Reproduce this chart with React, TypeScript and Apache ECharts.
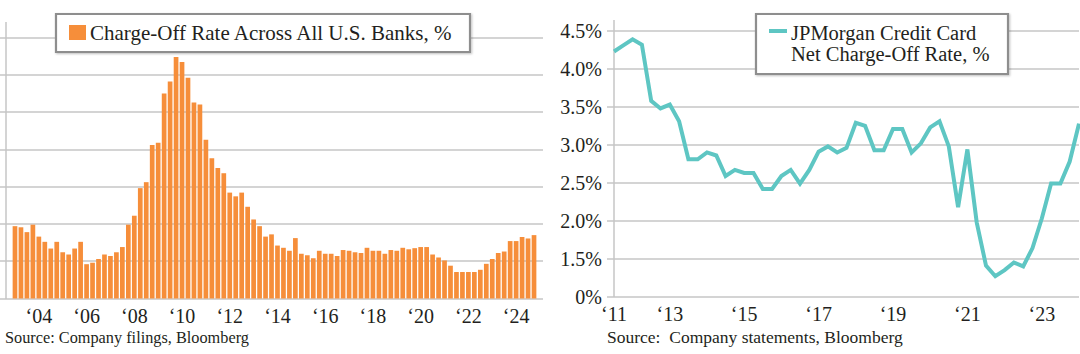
import React, { useEffect, useRef } from 'react';
import * as echarts from 'echarts';

// ---------- DATA ----------
// Left: charge-off rate across all U.S. banks, quarterly 2003Q1 - 2024Q4 (%)
const bankStartYear = 2003;
const bankChargeOffRate = [
  0.97, 0.955, 0.89, 0.99, 0.83, 0.76, 0.67, 0.76, 0.62, 0.59, 0.67,
  0.76, 0.46, 0.48, 0.53, 0.59, 0.57, 0.62, 0.69, 0.99, 1.11, 1.48,
  1.56, 2.06, 2.09, 2.75, 2.91, 3.24, 3.17, 2.96, 2.63, 2.6, 2.13,
  1.88, 1.75, 1.68, 1.42, 1.37, 1.42, 1.23, 1.06, 0.97, 0.83, 0.86,
  0.71, 0.68, 0.64, 0.81, 0.6, 0.58, 0.54, 0.64, 0.6, 0.6, 0.57,
  0.65, 0.64, 0.62, 0.61, 0.68, 0.64, 0.64, 0.6, 0.65, 0.64, 0.68,
  0.66, 0.675, 0.69, 0.69, 0.59, 0.55, 0.51, 0.44, 0.355, 0.355, 0.355,
  0.355, 0.385, 0.465, 0.53, 0.61, 0.63, 0.77, 0.77, 0.825, 0.805, 0.85,
];
const bankLabelYears = [2004, 2006, 2008, 2010, 2012, 2014, 2016, 2018, 2020, 2022, 2024];

// Right: JPMorgan credit card net charge-off rate, quarterly 2011Q3 - 2024Q1 (%)
const jpmStartYear = 2011;
const jpmStartQuarter = 3;
const jpmCardNcoRate = [
  4.23, 4.31, 4.39, 4.32, 3.58, 3.48, 3.53, 3.31, 2.81, 2.81, 2.9,
  2.86, 2.59, 2.67, 2.63, 2.63, 2.42, 2.42, 2.59, 2.67, 2.49, 2.67,
  2.91, 2.98, 2.9, 2.96, 3.29, 3.25, 2.93, 2.93, 3.21, 3.21, 2.9,
  3.02, 3.23, 3.31, 2.98, 2.18, 2.94, 1.98, 1.41, 1.27, 1.35, 1.45,
  1.4, 1.64, 2.03, 2.49, 2.49, 2.78, 3.28,
];
const jpmLabelYears = [2011, 2013, 2015, 2017, 2019, 2021, 2023];
const jpmYTicks = [1.0, 1.5, 2.0, 2.5, 3.0, 3.5, 4.0, 4.5];
const jpmBrokenAxisLabel = '0%'; // bottom tick is labelled 0% in the source

const bankName = 'Charge-Off Rate Across All U.S. Banks, %';
const jpmNameLine1 = 'JPMorgan Credit Card';
const jpmNameLine2 = 'Net Charge-Off Rate, %';
const bankSource = 'Source: Company filings, Bloomberg';
const jpmSource = 'Source:\u00a0 Company statements, Bloomberg';

function quarterLabels(startYear: number, startQ: number, count: number): string[] {
  const out: string[] = [];
  let y = startYear;
  let q = startQ;
  for (let i = 0; i < count; i++) {
    out.push(`${y}Q${q}`);
    q++;
    if (q > 4) {
      q = 1;
      y++;
    }
  }
  return out;
}

const bankQuarters = quarterLabels(bankStartYear, 1, bankChargeOffRate.length);
const jpmQuarters = quarterLabels(jpmStartYear, jpmStartQuarter, jpmCardNcoRate.length);

const shortYear = (cat: string) => '\u2018' + cat.slice(2, 4);

// ---------- STYLE ----------
const FONT = "'Liberation Serif', 'Times New Roman', serif";
const ORANGE = '#F68E3A';
const TEAL = '#5EC6C3';
const GRID = '#C6C6C6';
const TEXT = '#231F20';
const BOX = '#8E8E8E';

export default function App() {
  const ref = useRef<HTMLDivElement>(null);

  useEffect(() => {
    document.body.style.margin = '0';
    if (!ref.current) return;
    const chart = echarts.init(ref.current, undefined, { renderer: 'svg' });

    const bankLabelSet = new Set(bankLabelYears.map((y) => `${y}Q1`));
    const jpmLabelSet = new Set(
      jpmLabelYears.map((y) => (y === jpmStartYear ? jpmQuarters[0] : `${y}Q1`))
    );

    const option: echarts.EChartsOption = {
      animation: false,
      textStyle: { fontFamily: FONT, color: TEXT },
      grid: [
        { left: 6, top: 37.5, width: 537, height: 261 },
        { left: 12, top: 37.5, width: 525, height: 261 },
        { left: 614, top: 31, width: 465, height: 265.7 },
      ],
      xAxis: [
        { gridIndex: 0, type: 'value', show: false, min: 0, max: 1 },
        {
          gridIndex: 1,
          type: 'category',
          data: bankQuarters,
          axisLine: { show: false },
          axisTick: { show: false },
          axisLabel: {
            interval: (i: number, v: string) => bankLabelSet.has(v),
            formatter: (v: string) => shortYear(v),
            fontSize: 20,
            color: TEXT,
            fontFamily: FONT,
            margin: 7,
          },
        },
        {
          gridIndex: 2,
          type: 'category',
          boundaryGap: false,
          data: jpmQuarters,
          axisLine: { show: false },
          axisTick: { show: false },
          axisLabel: {
            interval: (i: number, v: string) => jpmLabelSet.has(v),
            formatter: (v: string) => shortYear(v),
            fontSize: 20,
            color: TEXT,
            fontFamily: FONT,
            margin: 7,
          },
        },
      ],
      yAxis: [
        {
          gridIndex: 0,
          type: 'value',
          min: 0,
          max: 3.5,
          interval: 0.5,
          axisLabel: { show: false },
          axisLine: { show: false },
          axisTick: { show: true, length: 6, lineStyle: { color: GRID, width: 1.5 } },
          splitLine: { show: true, lineStyle: { color: GRID, width: 1.5 } },
        },
        { gridIndex: 1, type: 'value', min: 0, max: 3.5, interval: 0.5, show: false, splitLine: { show: false } },
        {
          gridIndex: 2,
          type: 'value',
          min: jpmYTicks[0],
          max: jpmYTicks[jpmYTicks.length - 1],
          interval: 0.5,
          axisLabel: {
            formatter: (v: number) => (v === jpmYTicks[0] ? jpmBrokenAxisLabel : v.toFixed(1) + '%'),
            fontSize: 20,
            color: TEXT,
            fontFamily: FONT,
            margin: 12,
          },
          axisLine: { show: false },
          axisTick: { show: true, length: 7, lineStyle: { color: GRID, width: 1.5 } },
          splitLine: { show: true, lineStyle: { color: GRID, width: 1.5 } },
        },
      ],
      series: [
        {
          name: bankName,
          type: 'bar',
          xAxisIndex: 1,
          yAxisIndex: 1,
          data: bankChargeOffRate,
          barWidth: 4.7,
          itemStyle: { color: ORANGE },
          z: 3,
        },
        {
          name: jpmNameLine1 + ' ' + jpmNameLine2,
          type: 'line',
          xAxisIndex: 2,
          yAxisIndex: 2,
          data: jpmCardNcoRate,
          symbol: 'none',
          showSymbol: false,
          lineStyle: { color: TEAL, width: 4, join: 'miter' },
          z: 3,
        },
      ],
      graphic: [
        // axis lines
        { type: 'line', shape: { x1: 6, y1: 22, x2: 6, y2: 299 }, style: { stroke: GRID, lineWidth: 1.5 }, z: 1 },
        { type: 'line', shape: { x1: 614, y1: 20, x2: 614, y2: 297 }, style: { stroke: GRID, lineWidth: 1.5 }, z: 1 },
        // left legend
        {
          type: 'rect',
          shape: { x: 56, y: 14, width: 414, height: 38 },
          style: { fill: '#fff', stroke: BOX, lineWidth: 2.2, shadowColor: 'rgba(0,0,0,0.25)', shadowBlur: 2, shadowOffsetX: 1, shadowOffsetY: 1 },
          z: 10,
        },
        { type: 'rect', shape: { x: 69, y: 25, width: 17, height: 15 }, style: { fill: ORANGE }, z: 11 },
        {
          type: 'text',
          x: 90,
          y: 33,
          style: { text: bankName, font: `21px ${FONT}`, fill: TEXT, verticalAlign: 'middle', align: 'left' },
          z: 11,
        },
        // right legend
        {
          type: 'rect',
          shape: { x: 756, y: 14, width: 252, height: 60 },
          style: { fill: '#fff', stroke: BOX, lineWidth: 2.2, shadowColor: 'rgba(0,0,0,0.25)', shadowBlur: 2, shadowOffsetX: 1, shadowOffsetY: 1 },
          z: 10,
        },
        { type: 'rect', shape: { x: 769, y: 29, width: 18, height: 4 }, style: { fill: TEAL }, z: 11 },
        {
          type: 'text',
          x: 791,
          y: 22.5,
          style: {
            text: jpmNameLine1 + '\n' + jpmNameLine2,
            font: `20.5px ${FONT}`,
            lineHeight: 21,
            fill: TEXT,
            verticalAlign: 'top',
            align: 'left',
          },
          z: 11,
        },
        // sources
        {
          type: 'text',
          x: 5,
          y: 337,
          style: { text: bankSource, font: `16.3px ${FONT}`, fill: TEXT, verticalAlign: 'middle', align: 'left' },
        },
        {
          type: 'text',
          x: 607,
          y: 337,
          style: { text: jpmSource, font: `17.5px ${FONT}`, fill: TEXT, verticalAlign: 'middle', align: 'left' },
        },
      ],
    };

    chart.setOption(option);
    return () => chart.dispose();
  }, []);

  return <div ref={ref} style={{ width: 1080, height: 354 }} />;
}
